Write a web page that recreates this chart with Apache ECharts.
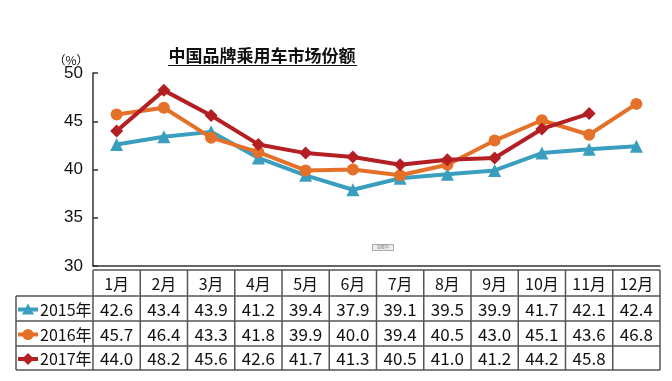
<!DOCTYPE html>
<html>
<head>
<meta charset="utf-8">
<script src="https://cdn.jsdelivr.net/npm/echarts@6/dist/echarts.min.js"></script>
<style>
html,body{margin:0;padding:0;background:#fff;}
#main{width:672px;height:381px;}
</style>
</head>
<body>
<div id="main"></div>
<script>
const categories = ['1月','2月','3月','4月','5月','6月','7月','8月','9月','10月','11月','12月'];
const seriesNames = ['2015年','2016年','2017年'];
const data2015 = [42.6, 43.4, 43.9, 41.2, 39.4, 37.9, 39.1, 39.5, 39.9, 41.7, 42.1, 42.4];
const data2016 = [45.7, 46.4, 43.3, 41.8, 39.9, 40.0, 39.4, 40.5, 43.0, 45.1, 43.6, 46.8];
const data2017 = [44.0, 48.2, 45.6, 42.6, 41.7, 41.3, 40.5, 41.0, 41.2, 44.2, 45.8, null];
const yTicks = [30, 35, 40, 45, 50];
const titleText = '中国品牌乘用车市场份额';
const unitText = '（%）';

const colors = ['#3a9fbf', '#e5702a', '#b41f24'];
const symbols = ['triangle', 'circle', 'diamond'];
const allData = [data2015, data2016, data2017];

const chart = echarts.init(document.getElementById('main'), null, {renderer: 'canvas'});

const gridLeft = 93, gridRight = 12, gridTop = 73, gridBottom = 115;
const W = 672;
const plotW = W - gridLeft - gridRight;
const colW = plotW / categories.length;
const FONT = '"Noto Sans CJK SC", "Liberation Sans", sans-serif';

// table geometry
const tHeaderTop = 270, rowH = 25, labelLeft = 16;
const rowTops = [tHeaderTop, tHeaderTop + 26, tHeaderTop + 51, tHeaderTop + 76, tHeaderTop + 100];
const lineColor = '#555';

const graphics = [];
// title
graphics.push({type:'text', left: 'center', top: 0, style:{}, silent:true, invisible:true});
graphics.push({type:'text', x: 262, y: 56, style:{text: titleText, font: 'bold 17px ' + FONT, fill:'#111', align:'center', verticalAlign:'middle'}});
graphics.push({type:'line', shape:{x1:168, y1:65.5, x2:357, y2:65.5}, style:{stroke:'#111', lineWidth:1.2}});
graphics.push({type:'text', x: 71, y: 60, style:{text: unitText, font: '12px ' + FONT, fill:'#111', align:'center', verticalAlign:'middle'}});
// small loading artifact
graphics.push({type:'rect', shape:{x:372.5, y:244.5, width:21, height:6}, style:{fill:'#eeeeee', stroke:'#aaaaaa', lineWidth:1}});
graphics.push({type:'text', x: 383, y: 247.5, style:{text:'加载中', font:'4px ' + FONT, fill:'#777', align:'center', verticalAlign:'middle'}});

// table horizontal lines
graphics.push({type:'line', shape:{x1:gridLeft, y1:rowTops[0], x2:gridLeft+plotW, y2:rowTops[0]}, style:{stroke:lineColor, lineWidth:1.5}});
for (let i = 1; i < rowTops.length; i++) {
  graphics.push({type:'line', shape:{x1:labelLeft, y1:rowTops[i], x2:gridLeft+plotW, y2:rowTops[i]}, style:{stroke:lineColor, lineWidth:1.5}});
}
// vertical lines
graphics.push({type:'line', shape:{x1:labelLeft, y1:rowTops[1], x2:labelLeft, y2:rowTops[4]}, style:{stroke:lineColor, lineWidth:1.5}});
for (let c = 0; c <= categories.length; c++) {
  const x = gridLeft + c * colW;
  graphics.push({type:'line', shape:{x1:x, y1:rowTops[0], x2:x, y2:rowTops[4]}, style:{stroke:lineColor, lineWidth:1.5}});
}
// header text
categories.forEach((cat, c) => {
  graphics.push({type:'text', x: gridLeft + (c + 0.5) * colW, y: (rowTops[0] + rowTops[1]) / 2 + 1,
    style:{text: cat, font: '16px ' + FONT, fill:'#111', align:'center', verticalAlign:'middle'}});
});
// rows
allData.forEach((arr, r) => {
  const yc = (rowTops[r+1] + rowTops[r+2]) / 2 + 1;
  arr.forEach((v, c) => {
    if (v == null) return;
    graphics.push({type:'text', x: gridLeft + (c + 0.5) * colW, y: yc,
      style:{text: v.toFixed(1), font: '17px ' + FONT, fill:'#111', align:'center', verticalAlign:'middle'}});
  });
  // legend marker
  graphics.push({type:'line', shape:{x1:18, y1:yc, x2:38, y2:yc}, style:{stroke:colors[r], lineWidth:4}});
  graphics.push({type:'text', x: 40, y: yc, style:{text: seriesNames[r], font: '16px ' + FONT, fill:'#111', align:'left', verticalAlign:'middle'}});
});

const series = allData.map((arr, i) => ({
  name: seriesNames[i],
  type: 'line',
  data: arr,
  symbol: symbols[i],
  symbolSize: i === 0 ? 13 : (i === 1 ? 12 : 13),
  showAllSymbol: true,
  lineStyle: {color: colors[i], width: 4},
  itemStyle: {color: colors[i]},
  z: 2 + i,
  animation: false
}));

// legend symbols via a dummy legend-like scatter is avoided; draw with graphic
const legendSymbolGraphics = [];

chart.setOption({
  animation: false,
  grid: {left: gridLeft, right: gridRight, top: gridTop, bottom: gridBottom},
  xAxis: {
    type: 'category',
    data: categories,
    boundaryGap: true,
    axisLine: {show: true, lineStyle: {color: '#333', width: 1.5}},
    axisTick: {show: false},
    axisLabel: {show: false}
  },
  yAxis: {
    type: 'value',
    min: yTicks[0],
    max: yTicks[yTicks.length - 1],
    interval: yTicks[1] - yTicks[0],
    axisLine: {show: true, lineStyle: {color: '#333', width: 1.5}},
    axisTick: {show: true, inside: true, length: 5, lineStyle: {color: '#333', width: 1.5}},
    axisLabel: {color: '#111', fontSize: 17, fontFamily: '"Liberation Sans", Arial, sans-serif', margin: 10},
    splitLine: {show: false}
  },
  series: series,
  graphic: graphics
});

// legend symbols in table row labels (drawn using ECharts symbol paths)
const extra = [];
allData.forEach((arr, r) => {
  const yc = (rowTops[r+1] + rowTops[r+2]) / 2 + 1;
  const s = 11;
  let shape;
  if (symbols[r] === 'circle') {
    extra.push({type:'circle', shape:{cx:28, cy:yc, r:5.5}, style:{fill:colors[r]}});
  } else if (symbols[r] === 'triangle') {
    extra.push({type:'polygon', shape:{points:[[28, yc-6],[34, yc+5],[22, yc+5]]}, style:{fill:colors[r]}});
  } else {
    extra.push({type:'polygon', shape:{points:[[28, yc-6],[34, yc],[28, yc+6],[22, yc]]}, style:{fill:colors[r]}});
  }
});
chart.setOption({graphic: graphics.concat(extra)});
</script>
</body>
</html>
